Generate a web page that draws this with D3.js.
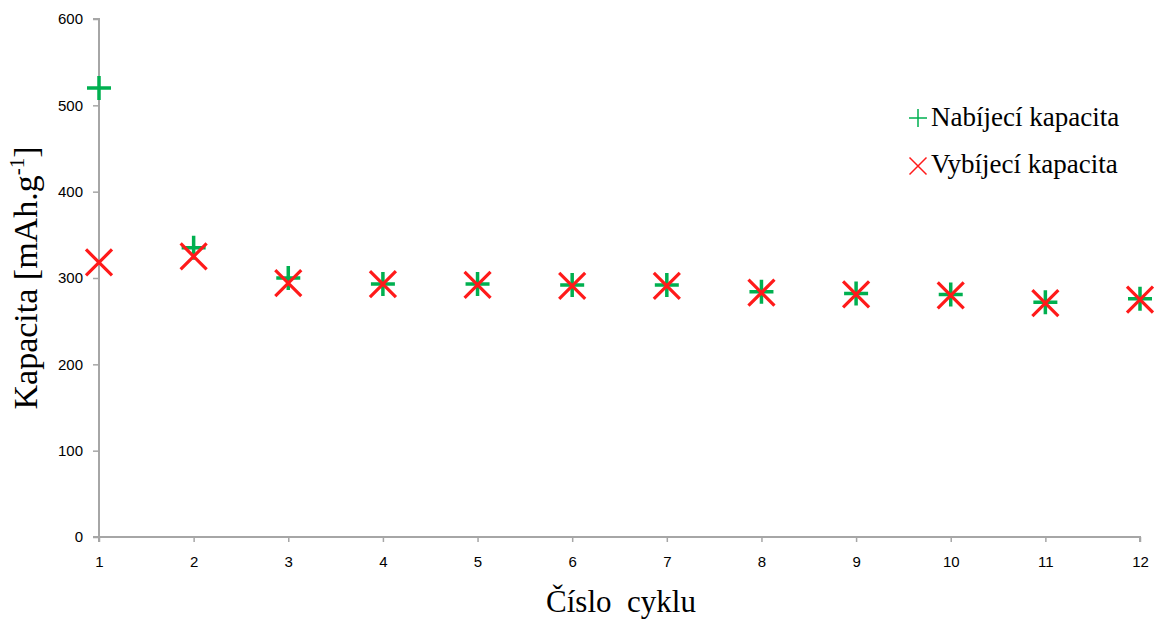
<!DOCTYPE html>
<html><head><meta charset="utf-8">
<script src="https://cdn.jsdelivr.net/npm/d3@7"></script>
<style>body{margin:0;background:#fff;}svg{display:block;}</style>
</head><body>
<svg id="c" width="1154" height="619"></svg>
<script>
const cycles = [1,2,3,4,5,6,7,8,9,10,11,12];
const charge = [520,335,300,293,293,292,292,284,282,281,272,276];
const discharge = [318,325,294,293,292,291,291,283,281,280,271,275];
const yTicks = [0,100,200,300,400,500,600];
const seriesNames = ["Nabíjecí kapacita","Vybíjecí kapacita"];
const xTitle = "Číslo  cyklu";

const serif = "'Liberation Serif', 'Times New Roman', Times, serif";
const svg = d3.select("#c");
const x = d3.scaleLinear().domain([1,12]).range([99,1140]);
const y = d3.scaleLinear().domain([0,600]).range([537,19]);
const axisColor = "#a6a6a6";

const yAxis = svg.append("g").attr("transform","translate(99,0)")
  .call(d3.axisLeft(y).tickValues(yTicks).tickSize(6).tickPadding(10).tickFormat(d3.format("d")));
const xAxis = svg.append("g").attr("transform","translate(0,537)")
  .call(d3.axisBottom(x).tickValues(cycles).tickSize(5).tickPadding(14).tickFormat(d3.format("d")));
[yAxis,xAxis].forEach(a=>{
  a.select(".domain").attr("stroke",axisColor).attr("stroke-width",2);
  a.selectAll(".tick line").attr("stroke",axisColor).attr("stroke-width",1.5);
  a.selectAll(".tick text").attr("fill","#000").style("font-family","'Liberation Sans', Arial, sans-serif").style("font-size","15px");
});
yAxis.select(".domain").attr("d","M-6,19H0V537H-6");
xAxis.select(".domain").attr("d","M99,5V0H1140V5");

const green = "#00b050", red = "#ff1a1a";
function plus(g, cx, cy, s, w, col){
  g.append("path").attr("d",`M${cx-s},${cy}H${cx+s}M${cx},${cy-s}V${cy+s}`)
   .attr("stroke",col).attr("stroke-width",w).attr("fill","none");
}
function cross(g, cx, cy, s, w, col){
  g.append("path").attr("d",`M${cx-s},${cy-s}L${cx+s},${cy+s}M${cx-s},${cy+s}L${cx+s},${cy-s}`)
   .attr("stroke",col).attr("stroke-width",w).attr("fill","none");
}
const gm = svg.append("g");
cycles.forEach((c,i)=>plus(gm, x(c), y(charge[i]), 12, 3.5, green));
cycles.forEach((c,i)=>cross(gm, x(c), y(discharge[i]), 13, 3.2, red));

// legend
const lg = svg.append("g");
plus(lg, 918, 118, 9, 1.5, green);
cross(lg, 918, 166, 8.5, 1.5, red);
seriesNames.forEach((t,i)=>{
  lg.append("text").attr("x",931).attr("y",126+i*47).text(t)
    .style("font-family",serif).style("font-size","27px").attr("fill","#000");
});

// titles
svg.append("text").attr("x",621).attr("y",612).attr("text-anchor","middle")
  .style("white-space","pre").style("font-family",serif).style("font-size","31px")
  .text(xTitle);
const yt = svg.append("text").attr("transform","translate(37,278) rotate(-90)").attr("text-anchor","middle")
  .style("font-family",serif).style("font-size","34px");
yt.append("tspan").text("Kapacita [mAh.g");
yt.append("tspan").attr("dy",-13).style("font-size","21px").text("-1");
yt.append("tspan").attr("dy",13).text("]");
</script>
</body></html>
